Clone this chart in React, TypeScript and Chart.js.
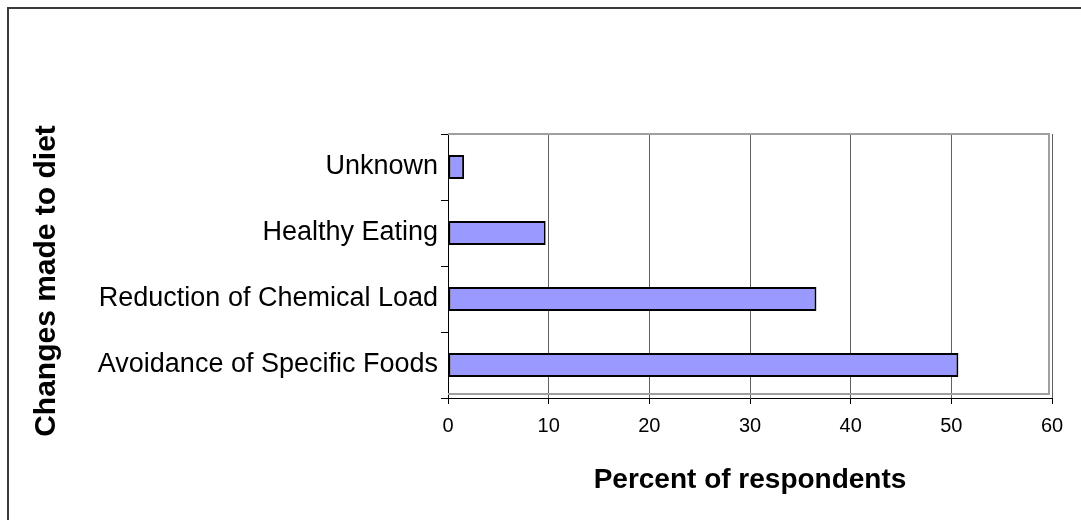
import React, { useEffect, useRef } from 'react';
import { Chart, registerables } from 'chart.js';

Chart.register(...registerables);

const categories = ['Unknown', 'Healthy Eating', 'Reduction of Chemical Load', 'Avoidance of Specific Foods'];
const percentValues = [1.6, 9.7, 36.6, 50.7];
const xTickValues = [0, 10, 20, 30, 40, 50, 60];
const xAxisTitle = 'Percent of respondents';
const yAxisTitle = 'Changes made to diet';

const FONT = '"Liberation Sans", Arial, Helvetica, sans-serif';

const plotFramePlugin = {
  id: 'plotFrame',
  beforeDatasetsDraw(chart: any) {
    const { ctx, chartArea: a } = chart;
    ctx.save();
    ctx.strokeStyle = '#a0a0a0';
    ctx.lineWidth = 2;
    ctx.beginPath();
    ctx.moveTo(a.left, a.top);
    ctx.lineTo(a.right - 3, a.top);
    ctx.lineTo(a.right - 3, a.bottom - 4);
    ctx.lineTo(a.left, a.bottom - 4);
    ctx.stroke();
    ctx.restore();
  },
  afterDraw(chart: any) {
    const { ctx } = chart;
    ctx.save();
    ctx.translate(47, 281);
    ctx.rotate(-Math.PI / 2);
    ctx.font = `bold 30px ${FONT}`;
    ctx.fillStyle = '#000';
    ctx.textAlign = 'center';
    ctx.textBaseline = 'middle';
    ctx.fillText(yAxisTitle, 0, 0);
    ctx.restore();
  },
};

export default function App() {
  const canvasRef = useRef<HTMLCanvasElement | null>(null);

  useEffect(() => {
    if (!canvasRef.current) return;
    const chart = new Chart(canvasRef.current, {
      type: 'bar',
      data: {
        labels: categories,
        datasets: [
          {
            data: percentValues,
            backgroundColor: '#9999ff',
            borderColor: '#000000',
            borderWidth: 2,
            borderSkipped: false,
            barPercentage: 0.364,
            categoryPercentage: 1,
          },
        ],
      },
      options: {
        indexAxis: 'y',
        animation: false,
        responsive: false,
        maintainAspectRatio: false,
        devicePixelRatio: 1,
        layout: { padding: { left: 30, top: 134, right: 29, bottom: 23 } },
        plugins: {
          legend: { display: false },
          tooltip: { enabled: false },
        },
        scales: {
          x: {
            type: 'linear',
            min: 0,
            max: 60,
            afterBuildTicks: (s: any) => {
              s.ticks = xTickValues.map((v) => ({ value: v }));
            },
            ticks: {
              color: '#000',
              font: { family: FONT, size: 20 },
              padding: 10,
              maxRotation: 0,
            },
            grid: {
              color: '#606060',
              lineWidth: 1,
              tickLength: 6,
              tickColor: '#000',
              drawTicks: true,
            },
            border: { color: '#000', width: 1 },
            title: {
              display: true,
              text: xAxisTitle,
              color: '#000',
              font: { family: FONT, size: 28, weight: 'bold' },
              padding: 0,
            },
            afterFit: (s: any) => {
              s.height = 99;
            },
          },
          y: {
            type: 'category',
            offset: true,
            ticks: {
              color: '#000',
              font: { family: FONT, size: 27 },
              padding: 3,
              autoSkip: false,
            },
            grid: {
              drawOnChartArea: false,
              drawTicks: true,
              tickLength: 7,
              tickColor: '#000',
              offset: true,
            },
            border: { color: '#000', width: 1 },
            title: { display: false },
            afterFit: (s: any) => {
              s.width = 418;
            },
          },
        },
      },
      plugins: [plotFramePlugin],
    } as any);
    return () => chart.destroy();
  }, []);

  return (
    <div
      style={{
        position: 'fixed',
        left: 0,
        top: 0,
        width: '100vw',
        height: '100vh',
        overflow: 'hidden',
        background: '#fff',
      }}
    >
      <canvas
        ref={canvasRef}
        width={1081}
        height={520}
        style={{ position: 'absolute', left: 0, top: 0, width: 1081, height: 520 }}
      />
      <div
        style={{
          position: 'absolute',
          left: 7,
          top: 7,
          width: 1200,
          height: 600,
          border: '2px solid #3a3a3a',
          boxSizing: 'border-box',
          pointerEvents: 'none',
        }}
      />
    </div>
  );
}
